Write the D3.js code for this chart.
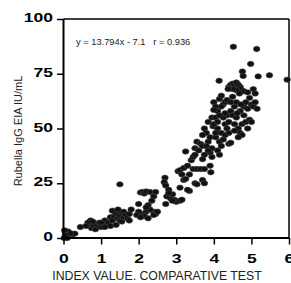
<!DOCTYPE html>
<html><head><meta charset="utf-8">
<script src="https://cdn.jsdelivr.net/npm/d3@7"></script>
<style>body{margin:0;background:#fff}svg{display:block}</style>
</head><body>
<svg id="c" width="291" height="283"></svg>
<script>
const xTicks=[0,1,2,3,4,5,6];
const yTicks=[0,25,50,75,100];
const xTitle="INDEX VALUE. COMPARATIVE TEST";
const yTitle="Rubella IgG EIA IU/mL";
const equation="y = 13.794x - 7.1   r = 0.936";
const xs=[0.02,0.05,0.05,0.08,0.1,0.12,0.15,0.2,0.25,0.3,0.03,0.1,0.18,0.06,
0.45,0.7,0.72,0.75,0.8,0.85,0.9,0.95,1.0,1.05,1.1,1.15,1.2,1.25,1.3,1.35,1.4,1.3,1.45,1.5,1.55,1.5,1.6,1.6,1.65,1.7,1.75,1.8,1.75,1.5,1.25,1.4,1.45,1.55,0.65,0.6,0.78,1.0,1.1,
2.0,2.05,2.1,2.15,2.2,2.3,2.4,2.45,2.35,2.25,2.2,2.1,2.0,2.15,2.25,2.4,2.45,2.3,1.95,2.05,2.2,2.4,2.5,
2.7,2.68,2.72,2.8,2.75,2.72,2.85,2.9,2.95,3.0,2.9,2.8,
3.05,3.1,3.1,3.15,3.2,3.25,3.2,3.25,3.3,3.35,3.35,3.1,3.15,3.4,3.45,3.5,3.55,3.45,3.55,3.5,3.55,3.6,3.3,3.5,
3.65,3.7,3.7,3.75,3.75,3.8,3.85,3.65,3.75,3.7,3.75,3.85,3.9,3.9,3.95,3.95,3.9,3.92,3.8,3.95,3.98,3.85,3.7,
4.0,4.05,4.1,4.15,4.05,4.0,4.1,4.05,4.15,4.2,4.1,4.15,4.2,4.0,4.25,4.3,4.35,4.3,4.25,4.35,4.4,4.45,4.2,4.25,4.1,4.3,4.4,4.45,4.2,4.35,4.45,4.3,4.15,4.05,4.4,
4.5,4.55,4.6,4.65,4.7,4.75,4.8,4.85,4.9,4.95,5.0,4.55,4.6,4.7,4.8,4.85,4.9,5.0,5.05,5.1,5.15,4.75,4.65,4.55,4.95,4.5,4.62,4.72,
4.52,5.14,4.98,4.76,4.78,5.18,5.48,5.95,4.14,4.4,4.45,4.5,4.55,4.6,4.65,4.7,4.72,4.6,4.8,4.9,5.05,5.1,4.5,4.68,4.38];
const ys=[0,1,2.5,0.5,1.5,3,0.8,1.2,1.8,2,3.5,0,2.2,1.2,
5,6,8,4.5,5.5,4,6,7,5,6.5,8,6,7,9.5,8,10,11,12.5,9,10.5,11.5,8,9.5,12,10.5,9,11,13,8,24.5,5.5,6,13,7.5,7,5.5,7.5,7,5,
15.5,20.8,21,20.3,21.3,21,19,21,17,15,12,11,12,10,9,12,11,13,10.5,9.5,14,10.5,12,
27.5,25.5,24,22,19,15.5,18,20,17.5,16.5,17,20.5,
30.5,31,23,29,26.5,39.5,32,27,33,29,21.5,17,17.5,35.5,37,41,44,31.5,31.5,25,24.5,40,22,38,
43,42,36,38,50,48,44,31.5,31.5,26.5,25,53,46,39,41,37,33,30,42,55,51,40,47,
62,60,58,63.5,55,52,50,46,44,48,40,38,42,58.5,61,62,56,52,55,50,53,58,60,45,53,47,43,43.5,65,63,62,57,56,48,48,
56,52,55,50,48,52,56,53,50,54,53,60,62,58,60,62,59,61,60,62,59,47,46,49,64,64.5,57,61,
87.3,86.3,79.5,76,74,73.8,74.3,72.3,71.8,69,70,70.5,69.5,71,70,69,68,67.5,67,66.5,68,66,68,66,68];

const svg=d3.select("#c");
const font="'Liberation Sans', Arial, sans-serif";
const x=d3.scaleLinear().domain([0,6]).range([63.5,289]);
const y=d3.scaleLinear().domain([0,100]).range([238,19]);

// frame
svg.append("line").attr("x1",x(0)).attr("x2",x(6)).attr("y1",y(100)).attr("y2",y(100)).attr("stroke","#000").attr("stroke-width",1.5);
svg.append("line").attr("x1",x(6)).attr("x2",x(6)).attr("y1",y(100)).attr("y2",y(0)).attr("stroke","#000").attr("stroke-width",1.5);

const pts=xs.map((v,i)=>[v,ys[i]]);
svg.append("g").selectAll("ellipse").data(pts).join("ellipse")
 .attr("cx",d=>x(d[0])).attr("cy",d=>y(d[1])).attr("rx",3.3).attr("ry",2.7)
 .attr("fill","#111").attr("stroke","#444").attr("stroke-width",0.6);

const ax=svg.append("g").attr("transform",`translate(0,${y(0)})`)
 .call(d3.axisBottom(x).tickValues(xTicks).tickFormat(d3.format("d")).tickSize(6.5));
const ay=svg.append("g").attr("transform",`translate(${x(0)},0)`)
 .call(d3.axisLeft(y).tickValues(yTicks).tickFormat(d3.format("d")).tickSize(6.5));
[ax,ay].forEach(a=>{
 a.select(".domain").attr("stroke","#000").attr("stroke-width",2);
 a.selectAll(".tick line").attr("stroke","#000").attr("stroke-width",1.5);
 a.selectAll(".tick text").attr("font-family",font).attr("font-weight","bold").attr("font-size",13).attr("fill","#000");
});
ax.selectAll(".tick text").attr("y",0).attr("dy",0).attr("transform","translate(0,263) scale(1.35,1)".replace("263","25"));
ay.selectAll(".tick text").attr("x",0).attr("dy",0).attr("transform","translate(-10.5,-2) scale(1.35,1)").attr("dominant-baseline","central");
ax.select(".domain").attr("d",`M${x(0)},0H${x(6)}`);
ay.select(".domain").attr("d",`M0,${y(0)}V${y(100)}`);

svg.append("text").attr("x",157).attr("y",280).attr("text-anchor","middle")
 .attr("font-family",font).attr("font-size",12.3).attr("fill","#222").text(xTitle);
svg.append("text").attr("transform","translate(22,131) rotate(-90)").attr("text-anchor","middle")
 .attr("font-family",font).attr("font-size",11).attr("fill","#222").text(yTitle);
svg.append("text").attr("x",76).attr("y",45).attr("font-family",font).attr("font-size",9.3).attr("fill","#222")
 .attr("xml:space","preserve").style("white-space","pre").text(equation);
</script>
</body></html>
